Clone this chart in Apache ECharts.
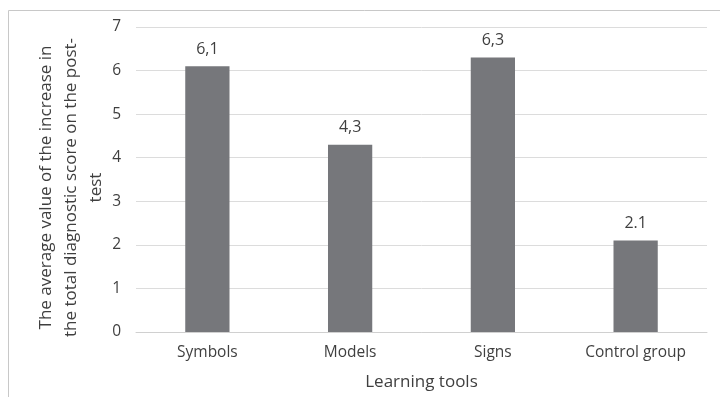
<!DOCTYPE html>
<html>
<head>
<meta charset="utf-8">
<script src="https://cdn.jsdelivr.net/npm/echarts@6/dist/echarts.min.js"></script>
<style>
  html, body { margin: 0; padding: 0; background: #ffffff; }
  #chart { width: 720px; height: 397px; }
</style>
</head>
<body>
<div id="chart"></div>
<script>
// Learning tools compared on the post-test
const categories = ['Symbols', 'Models', 'Signs', 'Control group'];
const increaseValues = [6.1, 4.3, 6.3, 2.1];
const valueLabels = ['6,1', '4,3', '6,3', '2.1'];
const yTicks = [0, 1, 2, 3, 4, 5, 6, 7];

const textColor = '#3f3f3f';
const fontFamily = 'Open Sans, Lato, Liberation Sans, sans-serif';

const chart = echarts.init(document.getElementById('chart'), null, { renderer: 'canvas' });

chart.setOption({
  animation: false,
  backgroundColor: '#ffffff',
  textStyle: { fontFamily: fontFamily },
  graphic: [{
    type: 'rect',
    shape: { x: 8.5, y: 10.5, width: 760, height: 420 },
    style: { fill: 'none', stroke: '#c8c8c8', lineWidth: 1 },
    silent: true,
    z: -1
  }],
  grid: { left: 136, right: 13, top: 27, bottom: 65 },
  xAxis: {
    type: 'category',
    data: categories,
    name: 'Learning tools',
    nameLocation: 'middle',
    nameGap: 42,
    nameMoveOverlap: false,
    nameTextStyle: { color: textColor, fontSize: 17, fontFamily: fontFamily },
    axisLine: { show: true, lineStyle: { color: '#d0d0d0', width: 1 } },
    axisTick: { show: false },
    axisLabel: { color: textColor, fontSize: 15.5, margin: 13, fontFamily: fontFamily }
  },
  yAxis: {
    type: 'value',
    min: yTicks[0],
    max: yTicks[yTicks.length - 1],
    interval: 1,
    name: 'The average value of the increase in\nthe total diagnostic score on the post-\ntest',
    nameLocation: 'middle',
    nameRotate: 90,
    nameGap: 27,
    nameMoveOverlap: false,
    nameTextStyle: {
      color: textColor, fontSize: 17, lineHeight: 25, fontFamily: fontFamily,
      align: 'center', padding: [0, 16, 0, 0]
    },
    axisLine: { show: false },
    axisTick: { show: false },
    axisLabel: { color: textColor, fontSize: 15.5, margin: 15, fontFamily: fontFamily },
    splitLine: { lineStyle: { color: '#dcdcdc', width: 1 } }
  },
  series: [{
    type: 'bar',
    data: increaseValues,
    barWidth: '31%',
    itemStyle: { color: '#76777b' },
    label: {
      show: true,
      position: 'top',
      distance: 9,
      color: textColor,
      fontSize: 16,
      fontFamily: fontFamily,
      formatter: function (p) { return valueLabels[p.dataIndex]; }
    }
  }]
});
</script>
</body>
</html>
